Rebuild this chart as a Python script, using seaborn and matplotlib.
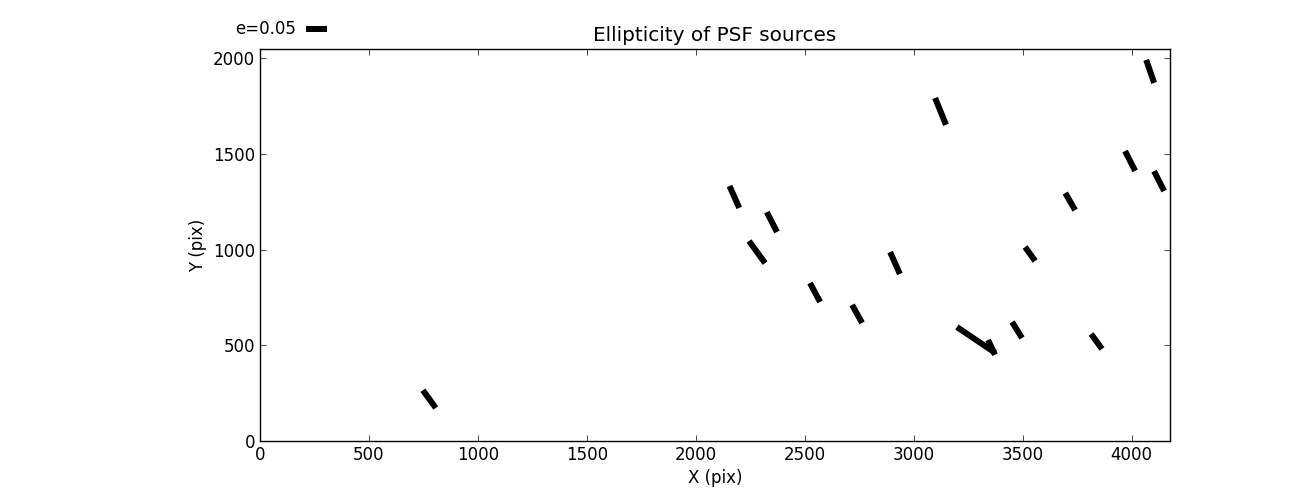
import numpy as np
import matplotlib
matplotlib.use('Agg')
import matplotlib.pyplot as plt
import seaborn as sns

# PSF source positions (pix), ellipticity and position angle (deg)
x_pix = [777, 2177, 2349, 2281, 2547, 2740, 2914, 3123, 3286, 3357,
         3474, 3534, 3839, 3718, 3993, 4126, 4085]
y_pix = [219, 1275, 1144, 987, 776, 664, 930, 1722, 528, 489,
         580, 977, 520, 1251, 1463, 1358, 1931]
ellip = [0.052, 0.057, 0.053, 0.065, 0.051, 0.049, 0.057, 0.069, 0.110, 0.039,
         0.045, 0.041, 0.044, 0.047, 0.053, 0.053, 0.058]
theta = [126, 114, 117, 126, 118, 119, 114, 112, 146, 115,
         122, 126, 126, 120, 117, 117, 109]

x_ticks = [0, 500, 1000, 1500, 2000, 2500, 3000, 3500, 4000]
y_ticks = [0, 500, 1000, 1500, 2000]
key_e = 0.05

sns.set_theme(style='ticks', rc={
    'xtick.direction': 'in', 'ytick.direction': 'in',
    'xtick.top': True, 'ytick.right': True,
    'xtick.major.size': 4, 'ytick.major.size': 4,
    'xtick.major.width': 0.5, 'ytick.major.width': 0.5,
    'axes.linewidth': 1.0, 'axes.edgecolor': 'black',
    'font.size': 12, 'xtick.labelsize': 12, 'ytick.labelsize': 12,
    'axes.labelsize': 12, 'axes.titlesize': 14.4,
    'xtick.color': 'black', 'ytick.color': 'black', 'text.color': 'black',
    'axes.labelcolor': 'black',
})
plt.rcParams['font.family'] = ['DejaVu Sans']

e = np.array(ellip)
t = np.deg2rad(theta)
u = e * np.cos(t)
v = e * np.sin(t)

fig = plt.figure(figsize=(13, 4.9), dpi=100)
ax = fig.add_axes([0.2, 0.1, 0.7, 0.8])

# headless whiskers, centred on the source
q = ax.quiver(x_pix, y_pix, u, v, angles='uv', pivot='middle',
              headwidth=0, headlength=0, headaxislength=0,
              scale=100 / 420, scale_units='inches', width=0.0066, color='#000000')
ax.quiverkey(q, 0.2352, 0.941, key_e, 'e=%.2f' % key_e, coordinates='figure',
             labelpos='W', color='#000000', fontproperties={'size': 12})

ax.set_xlim(0, 4176)
ax.set_ylim(0, 2048)
ax.set_xticks(x_ticks)
ax.set_yticks(y_ticks)
ax.set_xlabel("X (pix)")
ax.set_ylabel("Y (pix)")
ax.set_title("Ellipticity of PSF sources")

fig.savefig('out.png', dpi=100, facecolor='white')
